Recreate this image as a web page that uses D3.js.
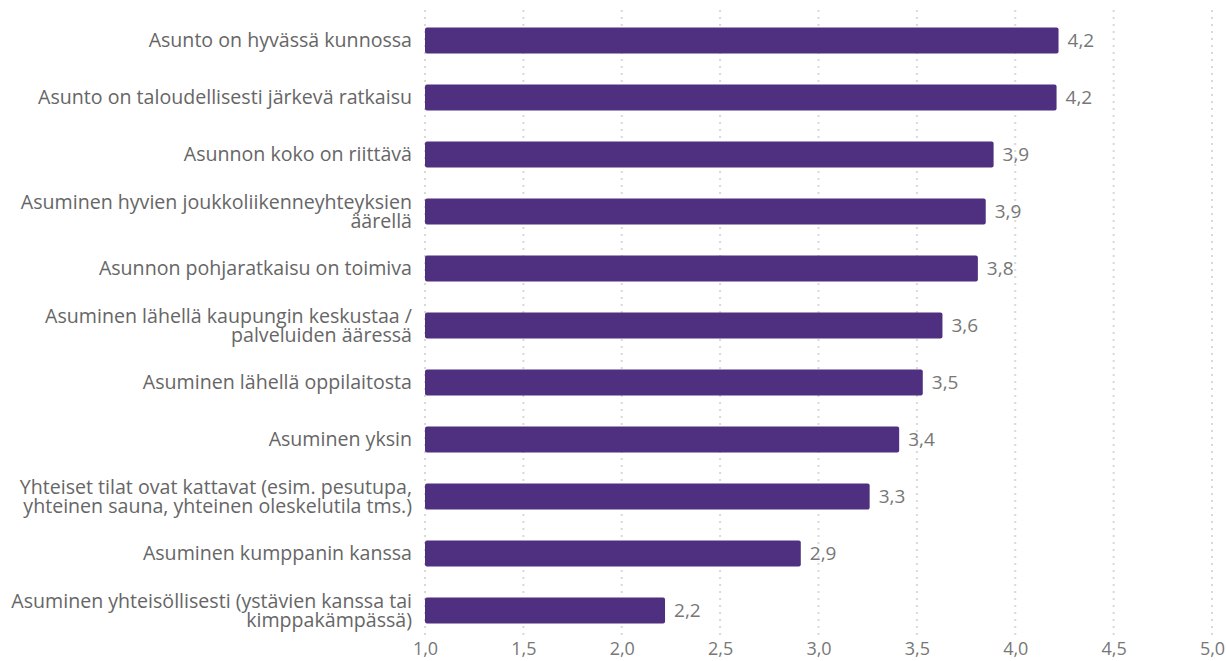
<html>
<head>
  <script src="https://d3js.org/d3.v7.min.js"></script>
  <style>
    body { margin: 0; background: #fff; }
    text { font-family: "Open Sans", sans-serif; }
  </style>
</head>
<body>
  <script>
    var w = 1226;
    var h = 661;
    var categories = [
      ["Asunto on hyvässä kunnossa"],
      ["Asunto on taloudellisesti järkevä ratkaisu"],
      ["Asunnon koko on riittävä"],
      ["Asuminen hyvien joukkoliikenneyhteyksien", "äärellä"],
      ["Asunnon pohjaratkaisu on toimiva"],
      ["Asuminen lähellä kaupungin keskustaa /", "palveluiden ääressä"],
      ["Asuminen lähellä oppilaitosta"],
      ["Asuminen yksin"],
      ["Yhteiset tilat ovat kattavat (esim. pesutupa,", "yhteinen sauna, yhteinen oleskelutila tms.)"],
      ["Asuminen kumppanin kanssa"],
      ["Asuminen yhteisöllisesti (ystävien kanssa tai", "kimppakämpässä)"]
    ];
    var values = [4.22, 4.21, 3.89, 3.85, 3.81, 3.63, 3.53, 3.41, 3.26, 2.91, 2.22];
    var ticks = [1.0, 1.5, 2.0, 2.5, 3.0, 3.5, 4.0, 4.5, 5.0];

    var svg = d3.select("body").append("svg").attr("width", w).attr("height", h);
    var x = d3.scaleLinear().domain([1, 5]).range([425, 1212]);
    var y = d3.scaleBand().domain(d3.range(values.length)).range([12, 639]).paddingInner(0.54).paddingOuter(0.27);
    var fmt = function(v){ return d3.format(".1f")(v).replace(".", ","); };

    // dotted grid lines
    svg.selectAll("line.grid").data(ticks).enter().append("line")
      .attr("class", "grid")
      .attr("x1", function(d){ return x(d); }).attr("x2", function(d){ return x(d); })
      .attr("y1", 10).attr("y2", 636)
      .attr("stroke", "#d9d9d9").attr("stroke-width", 2).attr("stroke-dasharray", "2,5");

    // x axis labels
    var ax = svg.append("g").attr("transform", "translate(0,640)")
      .call(d3.axisBottom(x).tickValues(ticks).tickSize(0).tickPadding(0).tickFormat(fmt));
    ax.select(".domain").remove();
    ax.selectAll("text").attr("font-size", 18).attr("fill", "#777").attr("dy", "0.85em")
      .style("font-family", "'Open Sans', sans-serif");

    // bars
    svg.selectAll("rect.bar").data(values).enter().append("rect")
      .attr("class", "bar")
      .attr("x", x(1))
      .attr("y", function(d, i){ return y(i); })
      .attr("width", function(d){ return x(d) - x(1); })
      .attr("height", y.bandwidth())
      .attr("rx", 2)
      .attr("fill", "#4f2f7f");

    // value labels
    svg.selectAll("text.val").data(values).enter().append("text")
      .attr("class", "val")
      .attr("x", function(d){ return x(d) + 9; })
      .attr("y", function(d, i){ return y(i) + y.bandwidth() / 2; })
      .attr("dy", "0.35em")
      .attr("font-size", 19).attr("fill", "#777")
      .text(fmt);

    // category labels
    var lab = svg.selectAll("text.cat").data(categories).enter().append("text")
      .attr("class", "cat")
      .attr("text-anchor", "end")
      .attr("font-size", 19.6).attr("fill", "#666")
      .attr("transform", function(d, i){ return "translate(412," + (y(i) + y.bandwidth() / 2) + ")"; });
    lab.selectAll("tspan").data(function(d){ return d; }).enter().append("tspan")
      .attr("x", 0)
      .attr("y", function(d, j, nodes){ return (j - (nodes.length - 1) / 2) * 19.5; })
      .attr("dy", "0.35em")
      .text(function(d){ return d; });
  </script>
</body>
</html>
